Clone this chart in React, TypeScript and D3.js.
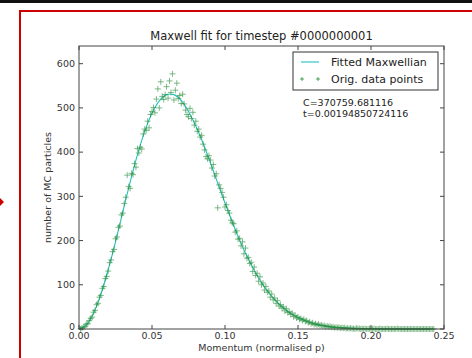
import { useEffect, useRef } from 'react';
import * as d3 from 'd3';

// fitted Maxwellian, sampled every 0.005 along the momentum axis
const fitMomentum = [
  0, 0.005, 0.01, 0.015, 0.02, 0.025, 0.03, 0.035, 0.04, 0.045, 0.05, 0.055, 0.06, 0.065,
  0.07, 0.075, 0.08, 0.085, 0.09, 0.095, 0.1, 0.105, 0.11, 0.115, 0.12, 0.125, 0.13, 0.135,
  0.14, 0.145, 0.15, 0.155, 0.16, 0.165, 0.17, 0.175, 0.18, 0.185, 0.19, 0.195, 0.2, 0.205,
  0.21, 0.215, 0.22, 0.225, 0.23, 0.235, 0.24,
];
const fitCounts = [
  0, 9, 36, 79, 134, 197, 265, 332, 394, 447, 488, 516, 530, 530, 517, 492, 459, 420, 376,
  330, 285, 242, 201, 165, 133, 105, 82, 63, 48, 35, 26, 19, 13, 9, 6, 4, 3, 2, 1.2, 0.8,
  0.5, 0.3, 0.2, 0.1, 0.1, 0, 0, 0, 0,
];

// original MC data points, one every 0.001 starting at 0.001
const dataStep = 0.001;
const dataCounts = [
  0, 2, 4, 5, 11, 12, 19, 24, 27, 38,
  42, 55, 58, 72, 76, 92, 96, 114, 119, 131,
  150, 156, 175, 180, 204, 208, 230, 233, 258, 262,
  284, 298, 348, 322, 318, 352, 349, 374, 366, 408,
  398, 411, 407, 441, 452, 449, 470, 455, 485, 492,
  501, 489, 520, 543, 500, 559, 526, 519, 530, 548,
  522, 561, 535, 577, 518, 540, 556, 521, 528, 510,
  531, 509, 495, 485, 480, 499, 476, 490, 461, 470,
  447, 452, 434, 438, 418, 405, 390, 385, 392, 382,
  364, 372, 346, 351, 274, 326, 318, 309, 298, 276,
  281, 268, 262, 246, 240, 238, 219, 222, 203, 205,
  188, 197, 170, 183, 160, 162, 148, 151, 130, 140,
  121, 126, 108, 118, 100, 104, 88, 96, 83, 86,
  72, 79, 66, 70, 58, 64, 52, 55, 47, 50,
  41, 46, 37, 39, 33, 36, 28, 31, 25, 27,
  22, 24, 19, 22, 17, 19, 14, 16, 12, 14,
  10, 12, 9, 11, 8, 9, 7, 8, 5, 7,
  5, 6, 4, 5, 3, 4, 3, 4, 2, 3,
  2, 3, 1, 2, 1, 2, 1, 1, 0, 2,
  1, 1, 0, 1, 0, 1, 0, 0, 1, 0,
  0, 1, 0, 0, 0, 1, 0, 0, 0, 0,
  1, 0, 0, 0, 0, 0, 0, 1, 0, 0,
  0, 0, 0, 0, 0, 0, 0, 0, 0, 0,
  0, 0, 0, 0, 0, 0, 0, 0, 0, 0,
  0, 0, 0,
];

const xTicks = [0, 0.05, 0.1, 0.15, 0.2, 0.25];
const yTicks = [0, 100, 200, 300, 400, 500, 600];
const legendLabels = ['Fitted Maxwellian', 'Orig. data points'];
const fitParams = ['C=370759.681116', 't=0.00194850724116'];

const FONT = '"DejaVu Sans", sans-serif';

export default function App() {
  const svgRef = useRef<SVGSVGElement>(null);
  const width = 472;
  const height = 358;

  useEffect(() => {
    if (!svgRef.current) return;
    const svg = d3.select(svgRef.current);
    svg.selectAll('*').remove();

    const margin = { top: 46, right: 28, bottom: 29, left: 79 };
    const plotW = width - margin.left - margin.right;
    const plotH = height - margin.top - margin.bottom;

    svg.append('rect').attr('width', width).attr('height', height).attr('fill', '#fff');

    // screenshot framing: black strip on top, red frame, little red arrow
    svg.append('rect').attr('x', 0).attr('y', 0).attr('width', width).attr('height', 3).attr('fill', '#111');
    svg
      .append('path')
      .attr('d', `M20,${height} L20,11 L${width},11`)
      .attr('fill', 'none')
      .attr('stroke', '#cc0000')
      .attr('stroke-width', 2);
    svg.append('path').attr('d', 'M0,198 L4,202 L0,206 Z').attr('fill', '#cc0000');

    const xScale = d3.scaleLinear().domain([0, 0.25]).range([0, plotW]);
    const yScale = d3.scaleLinear().domain([0, 640]).range([plotH, 0]);

    const g = svg.append('g').attr('transform', `translate(${margin.left}, ${margin.top})`);

    // fitted curve
    const fitData = fitMomentum.map((p, i) => ({ p, v: fitCounts[i] }));
    const line = d3
      .line<{ p: number; v: number }>()
      .x((d) => xScale(d.p))
      .y((d) => yScale(d.v))
      .curve(d3.curveCatmullRom);

    g.append('path')
      .datum(fitData)
      .attr('fill', 'none')
      .attr('stroke', '#22c1c1')
      .attr('stroke-width', 1.1)
      .attr('d', line);

    // data points as '+' markers
    const pts = dataCounts.map((v, i) => ({ p: (i + 1) * dataStep, v }));
    const ms = 3;
    g.selectAll('.pt')
      .data(pts)
      .join('path')
      .attr('class', 'pt')
      .attr('d', (d) => {
        const x = xScale(d.p);
        const y = yScale(d.v);
        return `M${x - ms},${y}H${x + ms}M${x},${y - ms}V${y + ms}`;
      })
      .attr('stroke', '#2a8f3a')
      .attr('stroke-width', 0.75)
      .attr('opacity', 0.8);

    // axes frame
    g.append('rect')
      .attr('width', plotW)
      .attr('height', plotH)
      .attr('fill', 'none')
      .attr('stroke', '#444')
      .attr('stroke-width', 1);

    const tickLen = 4;
    xTicks.forEach((t) => {
      const x = xScale(t);
      g.append('line').attr('x1', x).attr('x2', x).attr('y1', plotH).attr('y2', plotH - tickLen).attr('stroke', '#444');
      g.append('line').attr('x1', x).attr('x2', x).attr('y1', 0).attr('y2', tickLen).attr('stroke', '#444');
      g.append('text')
        .attr('x', x)
        .attr('y', plotH + 9.5)
        .attr('text-anchor', 'middle')
        .style('font-family', FONT)
        .style('font-size', '9.5px')
        .style('fill', '#333')
        .text(d3.format('.2f')(t));
    });

    yTicks.forEach((t) => {
      const y = yScale(t);
      g.append('line').attr('x1', 0).attr('x2', tickLen).attr('y1', y).attr('y2', y).attr('stroke', '#444');
      g.append('line').attr('x1', plotW).attr('x2', plotW - tickLen).attr('y1', y).attr('y2', y).attr('stroke', '#444');
      g.append('text')
        .attr('x', -4)
        .attr('y', y)
        .attr('dy', t === 0 ? '0.1em' : '0.35em')
        .attr('text-anchor', 'end')
        .style('font-family', FONT)
        .style('font-size', '9.5px')
        .style('fill', '#333')
        .text(t);
    });

    // title and axis labels
    svg.append('text')
      .attr('x', margin.left + plotW / 2)
      .attr('y', 40)
      .attr('text-anchor', 'middle')
      .style('font-family', FONT)
      .style('font-size', '11.5px')
      .style('fill', '#222')
      .text('Maxwell fit for timestep #0000000001');

    svg.append('text')
      .attr('x', margin.left + plotW / 2)
      .attr('y', 351)
      .attr('text-anchor', 'middle')
      .style('font-family', FONT)
      .style('font-size', '9.5px')
      .style('fill', '#333')
      .text('Momentum (normalised p)');

    svg.append('text')
      .attr('transform', `translate(51, ${margin.top + plotH / 2}) rotate(-90)`)
      .attr('text-anchor', 'middle')
      .style('font-family', FONT)
      .style('font-size', '9.5px')
      .style('fill', '#333')
      .text('number of MC particles');

    // legend
    const legend = svg.append('g').attr('transform', 'translate(293, 52)');
    legend.append('rect')
      .attr('width', 145)
      .attr('height', 38)
      .attr('fill', '#fff')
      .attr('stroke', '#333')
      .attr('stroke-width', 1);

    legend.append('line')
      .attr('x1', 8).attr('x2', 26).attr('y1', 10).attr('y2', 10)
      .attr('stroke', '#22c1c1')
      .attr('stroke-width', 1.1);
    [9, 25].forEach((x) => {
      legend.append('path')
        .attr('d', `M${x - 2},27H${x + 2}M${x},25V29`)
        .attr('stroke', '#2a8f3a')
        .attr('stroke-width', 0.8);
    });
    legendLabels.forEach((label, i) => {
      legend.append('text')
        .attr('x', 38)
        .attr('y', 14 + i * 17)
        .style('font-family', FONT)
        .style('font-size', '11px')
        .style('fill', '#222')
        .text(label);
    });

    fitParams.forEach((txt, i) => {
      svg.append('text')
        .attr('x', 303)
        .attr('y', 106 + i * 10.5)
        .style('font-family', FONT)
        .style('font-size', '9.5px')
        .style('fill', '#222')
        .text(txt);
    });
  }, []);

  return (
    <svg
      ref={svgRef}
      width={width}
      height={height}
      style={{ position: 'absolute', left: 0, top: 0, display: 'block' }}
    />
  );
}
